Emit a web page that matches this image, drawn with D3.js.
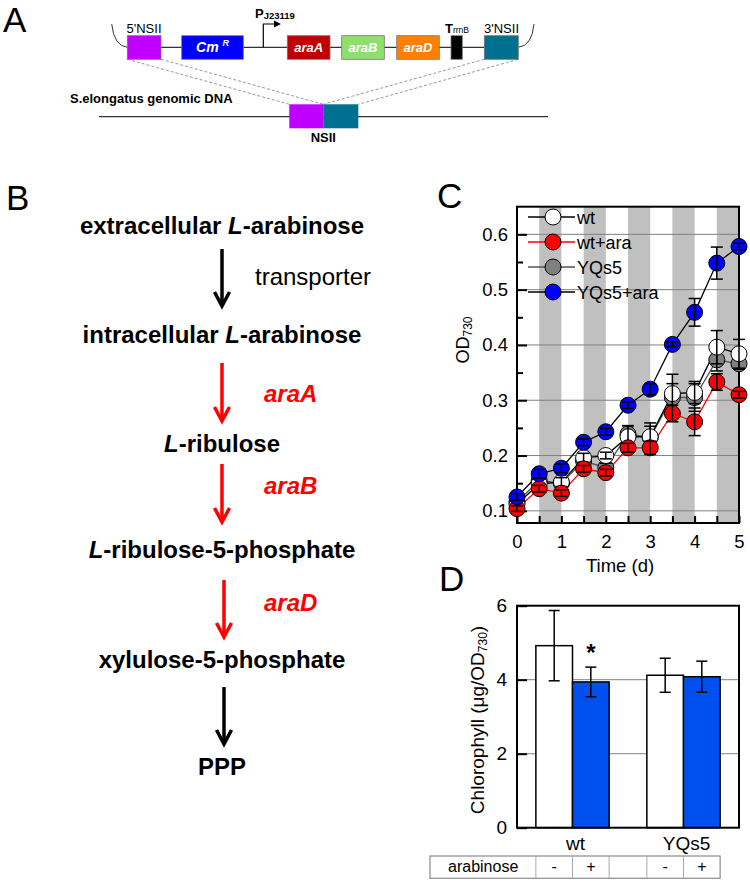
<!DOCTYPE html>
<html><head><meta charset="utf-8">
<script src="https://cdn.jsdelivr.net/npm/d3@7"></script>
<style>
body{margin:0;background:#fff;}
svg{display:block;font-family:"Liberation Sans",Arial,sans-serif;}
</style></head>
<body><svg id="fig" width="750" height="883"></svg>
<script>
// ---------- Panel C data ----------
const times = [0, 0.5, 1, 1.5, 2, 2.5, 3, 3.5, 4, 4.5, 5];
const wt      = [0.112, 0.149, 0.152, 0.196, 0.200, 0.234, 0.234, 0.312, 0.314, 0.396, 0.384];
const wtErr   = [0.005, 0.008, 0.008, 0.008, 0.006, 0.020, 0.025, 0.035, 0.020, 0.030, 0.026];
const wtAra   = [0.104, 0.140, 0.132, 0.176, 0.169, 0.214, 0.214, 0.276, 0.261, 0.333, 0.310];
const wtAraErr= [0.005, 0.006, 0.006, 0.006, 0.006, 0.008, 0.012, 0.015, 0.025, 0.015, 0.006];
const yqs5    = [0.116, 0.155, 0.150, 0.190, 0.178, 0.239, 0.233, 0.305, 0.305, 0.373, 0.366];
const yqs5Err = [0.005, 0.008, 0.008, 0.008, 0.008, 0.015, 0.020, 0.025, 0.025, 0.020, 0.010];
const yqs5Ara = [0.125, 0.167, 0.177, 0.224, 0.243, 0.291, 0.320, 0.401, 0.459, 0.548, 0.578];
const yqs5AraErr=[0.006,0.008, 0.008, 0.006, 0.006, 0.006, 0.010, 0.004, 0.025, 0.029, 0.006];
const seriesNames = ["wt", "wt+ara", "YQs5", "YQs5+ara"];
const yTicksC = [0.1, 0.2, 0.3, 0.4, 0.5, 0.6];
const xTicksC = [0, 1, 2, 3, 4, 5];
const darkPeriods = [[0.5,1],[1.5,2],[2.5,3],[3.5,4],[4.5,5]];

// ---------- Panel D data ----------
const strains = ["wt", "YQs5"];
const arabinose = ["-", "+"];
const chlMean = [[4.92, 3.94], [4.12, 4.08]];
const chlErr  = [[0.95, 0.40], [0.46, 0.42]];
const yTicksD = [0, 2, 4, 6];

// ---------- Panel A / B text ----------
const genes = [
  {name:"araA", x0:287.3, x1:330, fill:"#c00000"},
  {name:"araB", x0:341.7, x1:384.3, fill:"#8fdf6c"},
  {name:"araD", x0:396.7, x1:439.3, fill:"#ff8000"}
];
const pathway = [
  {parts:[["extracellular ",0],["L",1],["-arabinose",0]]},
  {parts:[["intracellular ",0],["L",1],["-arabinose",0]]},
  {parts:[["L",1],["-ribulose",0]]},
  {parts:[["L",1],["-ribulose-5-phosphate",0]]},
  {parts:[["xylulose-5-phosphate",0]]},
  {parts:[["PPP",0]]}
];
const enzymes = ["transporter", "araA", "araB", "araD", ""];

const svg = d3.select("#fig");
const F = '"Liberation Sans", Arial, sans-serif';

// ---------- Panel letters ----------
[["A",3,32],["B",6,210],["C",437,208],["D",439,591]].forEach(([t,x,y])=>{
  svg.append("text").attr("x",x).attr("y",y).attr("font-size",35).text(t);
});

// ---------- Panel A ----------
const gA = svg.append("g");
const by = 47.3, bt = 35.7, bb = 59.3;
gA.append("line").attr("x1",161).attr("x2",484.3).attr("y1",by).attr("y2",by).attr("stroke","#333").attr("stroke-width",1.2);
gA.append("path").attr("d",`M111.7,24 Q114,46 127.3,${by}`).attr("fill","none").attr("stroke","#333").attr("stroke-width",1);
gA.append("path").attr("d",`M534,24 Q532,46 518.3,${by}`).attr("fill","none").attr("stroke","#333").attr("stroke-width",1);
const gy0 = 104.3, gy1 = 128.3;
[[127.3,289.3],[161,323.3],[484.3,323.3],[518.3,358.3]].forEach(([a,b])=>{
  gA.append("line").attr("x1",a).attr("y1",bb).attr("x2",b).attr("y2",gy0)
    .attr("stroke","#999").attr("stroke-width",1).attr("stroke-dasharray","3,2");
});
const box=(x0,x1,y0,y1,fill)=>gA.append("rect").attr("x",x0).attr("y",y0).attr("width",x1-x0).attr("height",y1-y0)
   .attr("fill",fill).attr("stroke","#777").attr("stroke-width",0.8);
box(127.3,161,bt,bb,"#bf00ff");
box(181.7,243.3,bt,bb,"#0000ff");
genes.forEach(g=>{
  box(g.x0,g.x1,bt,bb,g.fill);
  gA.append("text").attr("x",(g.x0+g.x1)/2).attr("y",52.3).attr("text-anchor","middle")
    .attr("font-size",13).attr("font-weight","bold").attr("font-style","italic").attr("fill","#fff").text(g.name);
});
box(451,462.3,bt,bb,"#000");
box(484.3,518.3,bt,bb,"#007090");
const cm = gA.append("text").attr("x",212.5).attr("y",52.3).attr("text-anchor","middle").attr("fill","#fff")
  .attr("font-weight","bold").attr("font-style","italic").attr("font-size",14);
cm.append("tspan").text("Cm ");
cm.append("tspan").attr("font-size",9).attr("dy",-6).text("R");
gA.append("path").attr("d",`M263.3,${by} V24 H276`).attr("fill","none").attr("stroke","#000").attr("stroke-width",1.2);
gA.append("path").attr("d","M281,24 L274,20.5 L274,27.5 Z").attr("fill","#000");
const pt = gA.append("text").attr("x",255).attr("y",18.3).attr("font-weight","bold").attr("font-size",13);
pt.append("tspan").text("P");
pt.append("tspan").attr("font-size",9.5).attr("dy",1).text("J23119");
const tt = gA.append("text").attr("x",445).attr("y",32.7).attr("font-weight","bold").attr("font-size",13);
tt.append("tspan").text("T");
tt.append("tspan").attr("font-size",8.5).attr("font-weight","normal").text("rrnB");
gA.append("text").attr("x",144).attr("y",32.7).attr("text-anchor","middle").attr("font-size",13).text("5'NSII");
gA.append("text").attr("x",501.5).attr("y",32.7).attr("text-anchor","middle").attr("font-size",13).text("3'NSII");
gA.append("line").attr("x1",99).attr("x2",548).attr("y1",116.7).attr("y2",116.7).attr("stroke","#333").attr("stroke-width",1.2);
gA.append("rect").attr("x",289.3).attr("y",gy0).attr("width",34).attr("height",gy1-gy0).attr("fill","#bf00ff");
gA.append("rect").attr("x",323.3).attr("y",gy0).attr("width",35).attr("height",gy1-gy0).attr("fill","#007090");
gA.append("text").attr("x",70).attr("y",103.3).attr("font-size",13).attr("font-weight","bold").text("S.elongatus genomic DNA");
gA.append("text").attr("x",323.3).attr("y",141.5).attr("text-anchor","middle").attr("font-size",13).attr("font-weight","bold").text("NSII");

// ---------- Panel B ----------
const gB = svg.append("g");
const baseY = [234, 343, 452, 558, 668, 775];
const arrows = [[222,249,307,"#000"],[222,363,422,"#f00"],[222,464,523,"#f00"],[224,580,638,"#f00"],[224,687,745,"#000"]];
pathway.forEach((p,i)=>{
  const t = gB.append("text").attr("x",222).attr("y",baseY[i]).attr("text-anchor","middle")
    .attr("font-size",24).attr("font-weight","bold");
  p.parts.forEach(([s,it])=>t.append("tspan").attr("font-style",it?"italic":"normal").text(s));
});
arrows.forEach(([x,y0,y1,c],i)=>{
  gB.append("line").attr("x1",x).attr("x2",x).attr("y1",y0).attr("y2",y1-2).attr("stroke",c).attr("stroke-width",3.5);
  gB.append("path").attr("d",`M${x-7.5},${y1-15} L${x},${y1-1} L${x+7.5},${y1-15}`).attr("fill","none")
    .attr("stroke",c).attr("stroke-width",3.5).attr("stroke-linejoin","miter");
  if(enzymes[i]){
    const isT = i===0;
    gB.append("text").attr("x",isT?255:264).attr("y",[285,402,494,611][i]).attr("font-size",24)
      .attr("font-weight",isT?"normal":"bold").attr("font-style",isT?"normal":"italic")
      .attr("fill",isT?"#000":"#f00").text(enzymes[i]);
  }
});

// ---------- Panel C ----------
const cL=517, cR=739, cT=206.7, cB=523;
const xC = d3.scaleLinear().domain([0,5]).range([cL,cR]);
const yC = d3.scaleLinear().domain([0.078,0.65]).range([cB,cT]);
const gC = svg.append("g");
gC.selectAll("rect.band").data(darkPeriods).enter().append("rect")
  .attr("x",d=>xC(d[0])).attr("width",d=>xC(d[1])-xC(d[0])).attr("y",cT).attr("height",cB-cT).attr("fill","#c0c0c0");
gC.selectAll("line.grid").data(yTicksC).enter().append("line")
  .attr("x1",cL).attr("x2",cR).attr("y1",d=>yC(d)).attr("y2",d=>yC(d)).attr("stroke","#808080").attr("stroke-width",1);
gC.append("g").attr("transform",`translate(${cL},0)`)
  .call(d3.axisLeft(yC).tickValues(yTicksC).tickFormat(d3.format(".1f")).tickSizeInner(-10).tickSizeOuter(0).tickPadding(9));
gC.append("g").attr("transform",`translate(${cL},0)`)
  .call(d3.axisLeft(yC).tickValues([0.15,0.25,0.35,0.45,0.55]).tickFormat("").tickSizeInner(-6).tickSizeOuter(0));
gC.append("g").attr("transform",`translate(0,${cB})`)
  .call(d3.axisBottom(xC).tickValues(xTicksC).tickFormat(d3.format("d")).tickSizeInner(-7).tickSizeOuter(0).tickPadding(12));
gC.append("g").attr("transform",`translate(0,${cB})`)
  .call(d3.axisBottom(xC).tickValues([0.5,1.5,2.5,3.5,4.5]).tickFormat("").tickSizeInner(-7).tickSizeOuter(0));
gC.selectAll(".domain").remove();
gC.selectAll(".tick line").attr("stroke","#000").attr("stroke-width",2);
gC.selectAll(".tick text").attr("font-size",18.5).attr("font-family",F).attr("fill","#000");
gC.append("rect").attr("x",cL).attr("y",cT).attr("width",cR-cL).attr("height",cB-cT).attr("fill","none").attr("stroke","#000").attr("stroke-width",2);
const odl = gC.append("text").attr("transform",`translate(469,340) rotate(-90)`).attr("text-anchor","middle").attr("font-size",18);
odl.append("tspan").text("OD");
odl.append("tspan").attr("font-size",12).attr("dy",3).text("730");
gC.append("text").attr("x",620).attr("y",571.5).attr("text-anchor","middle").attr("font-size",18.5).text("Time (d)");

const series = [
  {name:seriesNames[2], v:yqs5,    e:yqs5Err,    line:"#555", fill:"#808080"},
  {name:seriesNames[0], v:wt,      e:wtErr,      line:"#000", fill:"#ffffff"},
  {name:seriesNames[1], v:wtAra,   e:wtAraErr,   line:"#ff0000", fill:"#ff0000"},
  {name:seriesNames[3], v:yqs5Ara, e:yqs5AraErr, line:"#000", fill:"#0000ff"}
];
const lineGen = d3.line().x((d,i)=>xC(times[i])).y(d=>yC(d));
series.forEach(s=>{
  gC.append("path").datum(s.v).attr("d",lineGen).attr("fill","none").attr("stroke",s.line).attr("stroke-width",1.3);
});
series.forEach(s=>{
  const g = gC.append("g");
  g.selectAll("circle").data(s.v).enter().append("circle")
    .attr("cx",(d,i)=>xC(times[i])).attr("cy",d=>yC(d)).attr("r",8)
    .attr("fill",s.fill).attr("stroke","#000").attr("stroke-width",1);
  s.v.forEach((v,i)=>{
    const x = xC(times[i]), y0 = yC(v - s.e[i]), y1 = yC(v + s.e[i]);
    g.append("line").attr("x1",x).attr("x2",x).attr("y1",y0).attr("y2",y1).attr("stroke","#000").attr("stroke-width",1.5);
    [y0,y1].forEach(yy=>g.append("line").attr("x1",x-6).attr("x2",x+6).attr("y1",yy).attr("y2",yy).attr("stroke","#000").attr("stroke-width",1.5));
  });
});
const legOrder = [series[1],series[2],series[0],series[3]];
const legY = [217,242,267,292];
legOrder.forEach((s,i)=>{
  gC.append("line").attr("x1",528).attr("x2",575).attr("y1",legY[i]).attr("y2",legY[i]).attr("stroke",s.line).attr("stroke-width",1.3);
  gC.append("circle").attr("cx",553).attr("cy",legY[i]).attr("r",8).attr("fill",s.fill).attr("stroke","#000");
  gC.append("text").attr("x",577).attr("y",legY[i]+6.5).attr("font-size",18).text(s.name);
});

// ---------- Panel D ----------
const dL=517, dR=739, dT=605.7, dB=827.7;
const xD = d3.scaleBand().domain(strains).range([dL,dR]).paddingInner(0.34).paddingOuter(0.17);
const xInner = d3.scaleBand().domain(arabinose).range([0,xD.bandwidth()]);
const yD = d3.scaleLinear().domain([0,6]).range([dB,dT]);
const gD = svg.append("g");
gD.selectAll("line.grid").data([2,4]).enter().append("line")
  .attr("x1",dL).attr("x2",dR).attr("y1",d=>yD(d)).attr("y2",d=>yD(d)).attr("stroke","#808080").attr("stroke-width",1);
strains.forEach((s,si)=>{
  arabinose.forEach((a,ai)=>{
    const x = xD(s)+xInner(a), w = xInner.bandwidth(), v = chlMean[si][ai], e = chlErr[si][ai];
    gD.append("rect").attr("x",x).attr("y",yD(v)).attr("width",w).attr("height",dB-yD(v))
      .attr("fill",ai? "#0050f0":"#ffffff").attr("stroke","#000").attr("stroke-width",1.5);
    const cx = x+w/2;
    gD.append("line").attr("x1",cx).attr("x2",cx).attr("y1",yD(v-e)).attr("y2",yD(v+e)).attr("stroke","#000").attr("stroke-width",1.5);
    [v-e,v+e].forEach(t=>gD.append("line").attr("x1",cx-5.5).attr("x2",cx+5.5).attr("y1",yD(t)).attr("y2",yD(t)).attr("stroke","#000").attr("stroke-width",1.5));
  });
});
gD.append("text").attr("x",xD("wt")+xInner("+")+xInner.bandwidth()/2).attr("y",yD(chlMean[0][1]+chlErr[0][1])-6)
  .attr("text-anchor","middle").attr("font-size",24).attr("font-weight","bold").text("*");
gD.append("g").attr("transform",`translate(${dL},0)`)
  .call(d3.axisLeft(yD).tickValues(yTicksD).tickFormat(d3.format("d")).tickSizeInner(-10).tickSizeOuter(0).tickPadding(10));
gD.selectAll(".domain").remove();
gD.selectAll(".tick line").attr("stroke","#000").attr("stroke-width",2);
gD.selectAll(".tick text").attr("font-size",19).attr("font-family",F).attr("fill","#000");
gD.append("rect").attr("x",dL).attr("y",dT).attr("width",dR-dL).attr("height",dB-dT).attr("fill","none").attr("stroke","#000").attr("stroke-width",2);
const chl = gD.append("text").attr("transform","translate(484,720) rotate(-90)").attr("text-anchor","middle").attr("font-size",19);
chl.append("tspan").text("Chlorophyll (μg/OD");
chl.append("tspan").attr("font-size",12).attr("dy",3).text("730");
chl.append("tspan").attr("dy",-3).text(")");
strains.forEach(s=>{
  gD.append("text").attr("x",xD(s)+xD.bandwidth()/2+3).attr("y",850).attr("text-anchor","middle").attr("font-size",19).text(s);
});
const tT=856, tBm=878.3, tLx=430;
const cols = [tLx];
strains.forEach(s=>arabinose.forEach(a=>cols.push(xD(s)+xInner(a))));
cols.splice(3,0,xD("wt")+xD.bandwidth());
cols.push(xD("YQs5")+xD.bandwidth());
gD.append("rect").attr("x",tLx).attr("y",tT).attr("width",cols[cols.length-1]-tLx).attr("height",tBm-tT)
  .attr("fill","none").attr("stroke","#8a8a8a").attr("stroke-width",1.2);
cols.slice(1,-1).forEach(c=>gD.append("line").attr("x1",c).attr("x2",c).attr("y1",tT).attr("y2",tBm).attr("stroke","#aaa").attr("stroke-width",1));
gD.append("text").attr("x",448).attr("y",872).attr("font-size",16).text("arabinose");
strains.forEach(s=>arabinose.forEach(a=>{
  gD.append("text").attr("x",xD(s)+xInner(a)+xInner.bandwidth()/2).attr("y",872).attr("text-anchor","middle").attr("font-size",16).text(a);
}));
</script></body></html>
